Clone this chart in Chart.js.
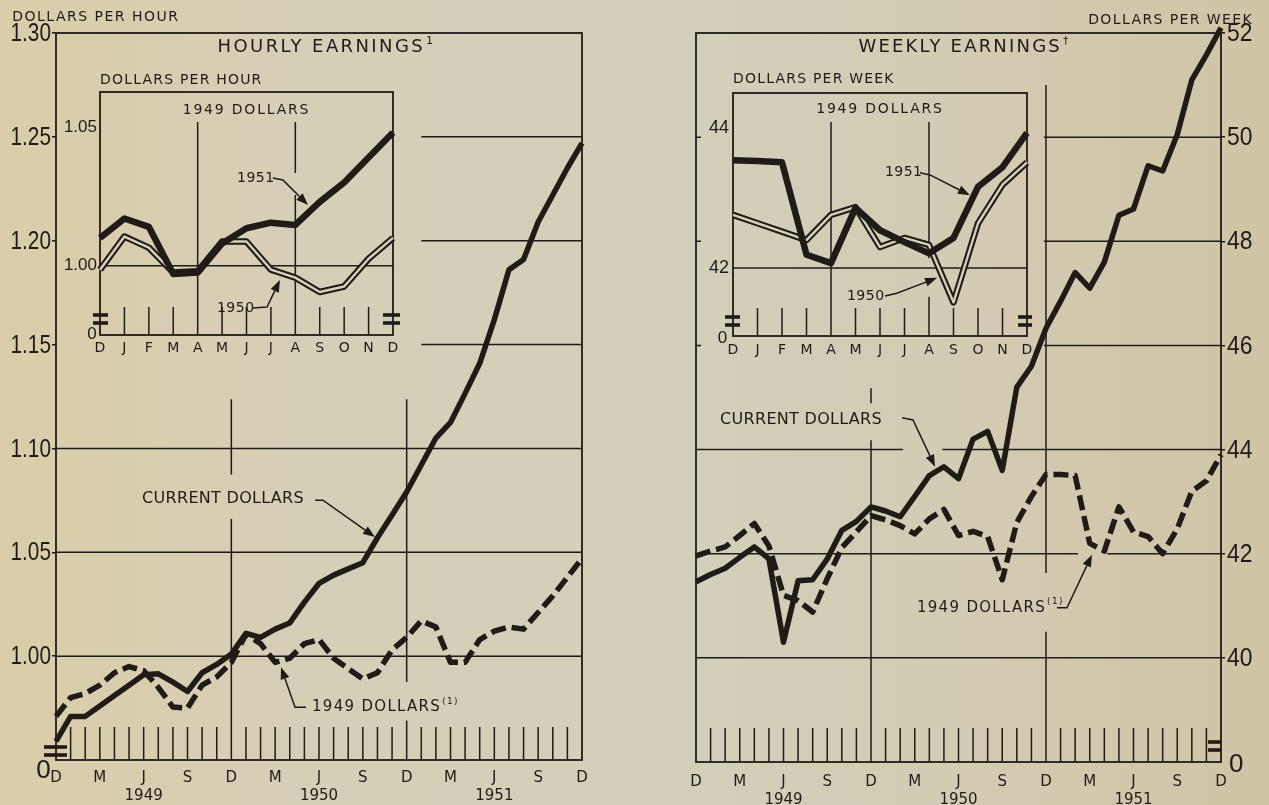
<!DOCTYPE html>
<html>
<head>
<meta charset="utf-8">
<script src="https://cdn.jsdelivr.net/npm/chart.js@4.4.1/dist/chart.umd.min.js"></script>
<style>
html, body { margin: 0; padding: 0; }
body {
  width: 1269px; height: 805px; overflow: hidden; position: relative;
  background: linear-gradient(90deg, #d9cea8 0%, #d6cfb7 22%, #d4cfba 55%, #d2cbb2 80%, #cdc5a5 100%);
}
canvas { position: absolute; }
</style>
</head>
<body>
<canvas id="hourMain" width="640" height="805" style="left:0;top:0"></canvas>
<canvas id="weekMain" width="629" height="805" style="left:640px;top:0"></canvas>
<canvas id="hourInset" width="380" height="310" style="left:40px;top:60px"></canvas>
<canvas id="weekInset" width="380" height="310" style="left:670px;top:60px"></canvas>
<script>
// months Dec 1948 .. Dec 1951
var months = ['D','J','F','M','A','M','J','J','A','S','O','N',
              'D','J','F','M','A','M','J','J','A','S','O','N',
              'D','J','F','M','A','M','J','J','A','S','O','N','D'];
var insetMonths = ['D','J','F','M','A','M','J','J','A','S','O','N','D'];
var yearLabels = ['1949','1950','1951'];   //. under each June

var hourTicks = [1.00, 1.05, 1.10, 1.15, 1.20, 1.25, 1.30];
var weekTicks = [40, 42, 44, 46, 48, 50, 52];
var insetHourTicks = [1.00, 1.05];
var insetWeekTicks = [42, 44];

//. hourly earnings, dollars per hour
var hourlyCurrent = [0.959,0.971,0.971,0.976,0.981,0.986,0.991,0.9915,0.9875,0.983,0.992,0.996,
                     1.001,1.011,1.009,1.013,1.016,1.026,1.035,1.039,1.042,1.045,1.057,1.068,
                     1.079,1.092,1.105,1.1125,1.1265,1.141,1.162,1.186,1.191,1.209,1.222,1.235,1.247];
var hourly1949 = [0.971,0.980,0.982,0.986,0.992,0.995,0.993,0.985,0.9755,0.975,0.986,0.990,
                  0.997,1.0105,1.006,0.997,0.999,1.006,1.008,0.999,0.994,0.989,0.992,1.003,
                  1.009,1.017,1.014,0.997,0.997,1.008,1.012,1.014,1.013,1.021,1.029,1.038,1.047];
var hour1951 = [1.010,1.017,1.014,0.997,0.9975,1.008,1.0135,1.0155,1.0147,1.023,1.030,1.039,1.048];
var hour1950 = [0.9985,1.0105,1.0065,0.9975,0.998,1.0087,1.0087,0.9986,0.9957,0.9905,0.9925,1.0025,1.010];

//. weekly earnings, dollars per week
var weeklyCurrent = [41.46,41.6,41.72,41.93,42.13,41.9,40.3,41.48,41.5,41.9,42.45,42.62,
                     42.9,42.82,42.71,43.1,43.5,43.67,43.44,44.2,44.35,43.6,45.2,45.6,
                     46.33,46.85,47.4,47.1,47.6,48.5,48.62,49.45,49.35,50.05,51.1,51.58,52.1];
var weekly1949 = [41.96,42.05,42.13,42.35,42.58,42.15,41.2,41.1,40.88,41.52,42.12,42.42,
                  42.73,42.65,42.54,42.38,42.67,42.85,42.35,42.43,42.33,41.5,42.6,43.1,
                  43.52,43.52,43.5,42.2,42.05,42.9,42.42,42.33,42.0,42.48,43.2,43.4,43.9];
var week1951 = [43.54,43.53,43.51,42.19,42.07,42.86,42.54,42.37,42.21,42.43,43.16,43.44,43.93];
var week1950 = [42.76,42.64,42.52,42.40,42.76,42.87,42.30,42.43,42.33,41.51,42.64,43.19,43.51];

var INK = '#201b17';
var PAPER = '#d5cfb8';
var LETTER = "'DejaVu Sans', 'Liberation Sans', sans-serif";
var PLAIN = "'Liberation Sans', Arial, sans-serif";

function mainTick( i ){
  if( i % 3 ) return '';
  var k = ( i - 6 ) / 12;
  if( Number.isInteger( k ) && yearLabels[k] ) return [ months[i], yearLabels[k] ];
  return months[i];
}

//. frame, grid pieces, month ticks, labels and arrows
var decor = {
  id: 'decor',
  beforeDatasetsDraw: function( chart, args, o ){
    var ctx = chart.ctx, a = chart.chartArea, x = chart.scales.x, y = chart.scales.y;
    var n = chart.data.labels.length;
    ctx.save();
    ctx.strokeStyle = INK;
    ctx.lineWidth = 1.5;
    ctx.beginPath();
    ( o.h || [] ).forEach( function( s ){
      var py = y.getPixelForValue( s[0] );
      ctx.moveTo( x.getPixelForValue( s[1] ), py );
      ctx.lineTo( x.getPixelForValue( s[2] ), py );
    });
    ( o.v || [] ).forEach( function( s ){
      var px = x.getPixelForValue( s[0] );
      ctx.moveTo( px, y.getPixelForValue( s[1] ) );
      ctx.lineTo( px, y.getPixelForValue( s[2] ) );
    });
    for( var i = 1; i < n - 1; i ++ ){
      if( o.skip.indexOf( i ) >= 0 ) continue;
      var px = x.getPixelForValue( i );
      ctx.moveTo( px, a.bottom );
      ctx.lineTo( px, a.bottom - o.tick );
    }
    ( o.inner || [] ).forEach( function( v ){
      var py = y.getPixelForValue( v );
      ctx.moveTo( a.left, py );
      ctx.lineTo( a.left + 5, py );
    });
    ctx.stroke();
    ctx.lineWidth = 1.8;
    var hd = o.header || 0;
    ctx.strokeRect( a.left, a.top - hd, a.right - a.left, a.bottom - a.top + hd );
    ctx.restore();
  },
  afterDatasetsDraw: function( chart, args, o ){
    var ctx = chart.ctx, a = chart.chartArea, x = chart.scales.x, y = chart.scales.y;
    ctx.save();
    ctx.fillStyle = INK;
    ctx.strokeStyle = INK;
    ( o.breaks || [] ).forEach( function( b ){
      var base = ( b.side == 'left' ) ? a.left : a.right;
      b.dy.forEach( function( d ){
        ctx.fillRect( base + b.dx1, a.bottom + d - 1.8, b.dx2 - b.dx1, 3.6 );
      });
    });
    ctx.textBaseline = 'middle';
    //. condensed tick labels of the main value axis, at the scale's own ticks
    if( o.ylab ){
      ctx.font = o.ylab.font;
      ctx.textAlign = ( o.ylab.side == 'left' ) ? 'right' : 'left';
      y.ticks.forEach( function( t ){
        var py = y.getPixelForValue( t.value );
        var px = ( o.ylab.side == 'left' ) ? a.left - o.ylab.pad : a.right + o.ylab.pad;
        ctx.save();
        ctx.translate( px, py );
        ctx.scale( o.ylab.sx, 1 );
        ctx.fillText( t.value.toFixed( o.ylab.dec ), 0, 1 );
        ctx.restore();
      });
    }
    ( o.texts || [] ).forEach( function( t ){
      ctx.font = t.font;
      ctx.letterSpacing = t.ls || '0px';
      ctx.textAlign = 'left';
      var px = x.getPixelForValue( t.x ), py = y.getPixelForValue( t.y );
      var w = ctx.measureText( t.t ).width, ws = 0;
      if( t.sup ){
        ctx.font = t.supFont;
        ws = ctx.measureText( t.sup ).width + 2;
        ctx.font = t.font;
      }
      var sx = px;
      if( t.align == 'center' ) sx = px - ( w + ws ) / 2;
      if( t.align == 'right' ) sx = px - w - ws;
      ctx.fillText( t.t, sx, py );
      if( t.sup ){
        ctx.font = t.supFont;
        ctx.fillText( t.sup, sx + w + 1, py - 6 );
      }
    });
    ctx.letterSpacing = '0px';
    ( o.arrows || [] ).forEach( function( pts ){
      var p = pts.map( function( q ){ return [ x.getPixelForValue( q[0] ), y.getPixelForValue( q[1] ) ]; } );
      var tip = p[p.length - 1], prev = p[p.length - 2];
      var dx = tip[0] - prev[0], dy = tip[1] - prev[1], len = Math.sqrt( dx * dx + dy * dy );
      var ux = dx / len, uy = dy / len, L = 12, W = 4.5;
      var bx = tip[0] - ux * L, by = tip[1] - uy * L;
      ctx.lineWidth = 1.5;
      ctx.beginPath();
      ctx.moveTo( p[0][0], p[0][1] );
      for( var i = 1; i < p.length - 1; i ++ ) ctx.lineTo( p[i][0], p[i][1] );
      ctx.lineTo( bx, by );
      ctx.stroke();
      ctx.beginPath();
      ctx.moveTo( tip[0], tip[1] );
      ctx.lineTo( bx - uy * W, by + ux * W );
      ctx.lineTo( bx + uy * W, by - ux * W );
      ctx.closePath();
      ctx.fill();
    });
    ctx.restore();
  }
};

function line( data, w, dash, color ){
  return {
    data: data, borderColor: color || INK, borderWidth: w, borderDash: dash || [],
    pointRadius: 0, tension: 0, borderJoinStyle: 'round', borderCapStyle: 'butt', clip: false
  };
}

function baseOptions( pad, yW, xH, yScale, xFont, xPad, decorOpts, yPos ){
  return {
    responsive: false, animation: false, events: [],
    layout: { padding: pad },
    plugins: { legend: { display: false }, tooltip: { enabled: false }, decor: decorOpts },
    scales: {
      x: {
        type: 'category', offset: false,
        grid: { display: false, drawTicks: false }, border: { display: false },
        ticks: { autoSkip: false, maxRotation: 0, padding: xPad, color: INK, font: xFont.font, callback: xFont.cb },
        afterFit: function( s ){ s.height = xH; }
      },
      y: Object.assign( {
        position: yPos || 'left',
        border: { display: false },
        afterFit: function( s ){ s.width = yW; }
      }, yScale )
    }
  };
}

//. hourly, main panel
var mainFont = { family: LETTER, size: 15, lineHeight: 1.2 };
new Chart( document.getElementById( 'hourMain' ), {
  type: 'line',
  data: { labels: months, datasets: [ line( hourlyCurrent, 5.5 ), line( hourly1949, 5.5, [ 15, 6 ] ) ] },
  options: baseOptions( { left: 0, right: 58, top: 33, bottom: 0 }, 56, 45, {
      min: 0.95, max: 1.30,
      afterBuildTicks: function( s ){ s.ticks = hourTicks.map( function( v ){ return { value: v }; } ); },
      grid: { drawOnChartArea: false, drawTicks: true, tickLength: 4, color: INK, lineWidth: 1.5 },
      ticks: { display: false }
    },
    { font: mainFont, cb: function( v, i ){ return mainTick( i ); } }, 9,
    {
      ylab: { side: 'left', pad: 5, sx: 0.8, dec: 2, font: '26px ' + PLAIN },
      h: [ [1.00, 0, 36], [1.05, 0, 36], [1.10, 0, 36], [1.15, 25, 36], [1.20, 25, 36], [1.25, 25, 36] ],
      v: [ [12, 0.95, 1.066], [12, 1.0875, 1.1237], [24, 0.95, 0.969], [24, 0.9875, 1.1237] ],
      tick: 33, skip: [12, 24],
      breaks: [ { side: 'left', dx1: -12, dx2: 11, dy: [ -13, -5 ] } ],
      texts: [
        { t: 'DOLLARS PER HOUR', x: -3.0, y: 1.3077, font: '14px ' + LETTER, ls: '1.5px' },
        { t: 'HOURLY EARNINGS', sup: '1', x: 18.55, y: 1.2932, align: 'center', font: '18px ' + LETTER, ls: '2.4px', supFont: '11px ' + LETTER },
        { t: 'CURRENT DOLLARS', x: 5.89, y: 1.0756, font: '16px ' + LETTER, ls: '0.3px' },
        { t: '1949 DOLLARS', sup: '(1)', x: 17.52, y: 0.9754, font: '15px ' + LETTER, ls: '1.3px', supFont: '9px ' + LETTER },
        { t: '0', x: -1.35, y: 0.9446, font: '26px ' + PLAIN }
      ],
      arrows: [
        [ [17.73, 1.0751], [18.27, 1.0751], [21.83, 1.0573] ],
        [ [17.11, 0.9754], [16.36, 0.9754], [15.40, 0.9947] ]
      ]
    } ),
  plugins: [ decor ]
});

//. weekly, main panel
new Chart( document.getElementById( 'weekMain' ), {
  type: 'line',
  data: { labels: months, datasets: [ line( weeklyCurrent, 5.5 ), line( weekly1949, 5.5, [ 15, 6 ] ) ] },
  options: baseOptions( { left: 56, right: 0, top: 33, bottom: 0 }, 48, 43, {
      min: 38, max: 52,
      afterBuildTicks: function( s ){ s.ticks = weekTicks.map( function( v ){ return { value: v }; } ); },
      grid: { drawOnChartArea: false, drawTicks: true, tickLength: 4, color: INK, lineWidth: 1.5 },
      ticks: { display: false }
    },
    { font: mainFont, cb: function( v, i ){ return mainTick( i ); } }, 11,
    {
      ylab: { side: 'right', pad: 6, sx: 0.88, dec: 0, font: '26px ' + PLAIN },
      h: [ [40, 0, 36], [42, 0, 26.2], [42, 28.2, 36], [44, 0, 14.2], [44, 16.9, 36], [46, 23.85, 36], [48, 23.85, 36], [50, 23.85, 36] ],
      v: [ [12, 38, 44.18], [12, 44.89, 45.18], [24, 38, 40.5], [24, 41.63, 51.0] ],
      tick: 34, skip: [12, 24],
      inner: [ 40, 42, 44, 46, 48, 50 ],
      breaks: [ { side: 'right', dx1: -13, dx2: 0, dy: [ -20, -12 ] } ],
      texts: [
        { t: 'DOLLARS PER WEEK', x: 38.2, y: 52.25, align: 'right', font: '14px ' + LETTER, ls: '1.4px' },
        { t: 'WEEKLY EARNINGS', sup: '†', x: 18.45, y: 51.73, align: 'center', font: '18px ' + LETTER, ls: '2.2px', supFont: '11px ' + LETTER },
        { t: 'CURRENT DOLLARS', x: 1.65, y: 44.57, font: '16px ' + LETTER, ls: '0.3px' },
        { t: '1949 DOLLARS', sup: '(1)', x: 15.15, y: 40.96, font: '15px ' + LETTER, ls: '1.3px', supFont: '9px ' + LETTER },
        { t: '0', x: 36.55, y: 37.94, font: '26px ' + PLAIN }
      ],
      arrows: [
        [ [14.13, 44.61], [14.88, 44.57], [16.39, 43.67] ],
        [ [24.75, 40.96], [25.44, 40.96], [27.15, 41.98] ]
      ]
    }, 'right' ),
  plugins: [ decor ]
});

//. insets, 1949 dollars by year; first dataset is painted last, so 1951 goes first
var insetFont = { family: LETTER, size: 14, lineHeight: 1.2 };
new Chart( document.getElementById( 'hourInset' ), {
  type: 'line',
  data: { labels: insetMonths, datasets: [
    line( hour1951, 6.5 ), line( hour1950, 2.4, [], PAPER ), line( hour1950, 6.5 )
  ] },
  options: baseOptions( { left: 0, right: 27, top: 67, bottom: 0 }, 60, 35, {
      min: 0.975, max: 1.05,
      afterBuildTicks: function( s ){ s.ticks = insetHourTicks.map( function( v ){ return { value: v }; } ); },
      grid: { display: false, drawTicks: false },
      ticks: { padding: 3, color: INK, font: { family: PLAIN, size: 17 }, callback: function( v ){ return v.toFixed( 2 ); } }
    },
    { font: insetFont, cb: function( v, i ){ return insetMonths[i]; } }, 5,
    {
      header: 35,
      h: [ [1.00, 0, 12] ],
      v: [ [4, 0.975, 1.0518], [8, 0.975, 1.0255], [8, 1.0334, 1.0518] ],
      tick: 28, skip: [4, 8],
      breaks: [ { side: 'left', dx1: -7, dx2: 8, dy: [ -20, -12 ] }, { side: 'right', dx1: -10, dx2: 7, dy: [ -20, -12 ] } ],
      texts: [
        { t: 'DOLLARS PER HOUR', x: 0, y: 1.0669, font: '14px ' + LETTER, ls: '1.2px' },
        { t: '1949 DOLLARS', x: 6, y: 1.0561, align: 'center', font: '14px ' + LETTER, ls: '1.8px' },
        { t: '1951', x: 5.61, y: 1.0316, font: '14px ' + LETTER, ls: '0.5px' },
        { t: '1950', x: 4.79, y: 0.9847, font: '14px ' + LETTER, ls: '0.5px' },
        { t: '0', x: -0.52, y: 0.9752, font: '17px ' + PLAIN }
      ],
      arrows: [
        [ [7.08, 1.0316], [7.49, 1.0309], [8.52, 1.0219] ],
        [ [6.27, 0.9847], [6.84, 0.9851], [7.37, 0.9948] ]
      ]
    } ),
  plugins: [ decor ]
});

new Chart( document.getElementById( 'weekInset' ), {
  type: 'line',
  data: { labels: insetMonths, datasets: [
    line( week1951, 6.5 ), line( week1950, 2.4, [], PAPER ), line( week1950, 6.5 )
  ] },
  options: baseOptions( { left: 0, right: 23, top: 68, bottom: 0 }, 63, 34, {
      min: 41.03, max: 44,
      afterBuildTicks: function( s ){ s.ticks = insetWeekTicks.map( function( v ){ return { value: v }; } ); },
      grid: { display: false, drawTicks: false },
      ticks: { padding: 4, color: INK, font: { family: PLAIN, size: 18 }, callback: function( v ){ return '' + v; } }
    },
    { font: insetFont, cb: function( v, i ){ return insetMonths[i]; } }, 6,
    {
      header: 35,
      h: [ [42, 0, 12] ],
      v: [ [4, 41.03, 44.086], [8, 41.03, 41.59], [8, 42.14, 44.086] ],
      tick: 28, skip: [4, 8],
      breaks: [ { side: 'left', dx1: -8, dx2: 7, dy: [ -19, -11 ] }, { side: 'right', dx1: -9, dx2: 5, dy: [ -19, -11 ] } ],
      texts: [
        { t: 'DOLLARS PER WEEK', x: 0, y: 44.69, font: '14px ' + LETTER, ls: '1.2px' },
        { t: '1949 DOLLARS', x: 6, y: 44.26, align: 'center', font: '14px ' + LETTER, ls: '1.8px' },
        { t: '1951', x: 6.2, y: 43.36, font: '14px ' + LETTER, ls: '0.5px' },
        { t: '1950', x: 4.65, y: 41.6, font: '14px ' + LETTER, ls: '0.5px' },
        { t: '0', x: -0.62, y: 41.0, font: '17px ' + PLAIN }
      ],
      arrows: [
        [ [7.63, 43.36], [8.04, 43.33], [9.67, 43.04] ],
        [ [6.2, 41.6], [6.69, 41.64], [8.33, 41.86] ]
      ]
    } ),
  plugins: [ decor ]
});
</script>
</body>
</html>
